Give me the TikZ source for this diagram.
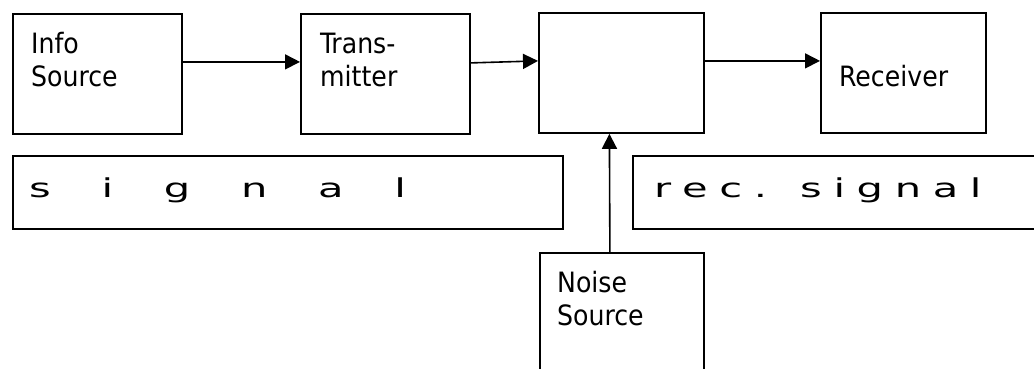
\documentclass[tikz,border=0pt]{standalone}
\usepackage{fontspec}
\setmainfont{DejaVu Sans Condensed}
\newfontfamily\spacedfont[LetterSpace=122]{DejaVu Sans}
\newfontfamily\recfont[LetterSpace=28]{DejaVu Sans}
\usetikzlibrary{arrows.meta}
\tikzset{
  blk/.style={draw=black, line width=1.8pt, rectangle, inner sep=0pt,
    anchor=north west, minimum width=#1},
  blk/.default=169pt,
  lbl/.style={anchor=base west, inner sep=0pt,
    font=\fontsize{28}{33}\selectfont},
  stretched/.style={anchor=base west, inner sep=0pt,
    font=\fontsize{26}{30}\selectfont},
  arr/.style={line width=1.6pt, -{Triangle[length=15pt,width=15pt]}}
}
\begin{document}
\begin{tikzpicture}[x=1pt, y=-1pt]
  \useasboundingbox (0,0) rectangle (1034,369);
  \clip (0,0) rectangle (1034,369);

  % upper chain of blocks
  \node[blk, minimum height=120pt] (info)  at (12,13)  {};
  \node[blk, minimum height=120pt] (trans) at (300,13) {};
  \node[blk=165pt, minimum height=120pt] (chan) at (538,12) {};
  \node[blk=165pt, minimum height=120pt] (recv) at (820,12) {};

  % long signal strips
  \node[blk=550pt, minimum height=73pt] (sigbox) at (12,155) {};
  \node[blk=430pt, minimum height=73pt] (recbox) at (632,155) {};

  % noise block, running off the lower edge
  \node[blk=164pt, minimum height=150pt] (noise) at (539,252) {};

  % block labels
  \node[lbl] (infotxt)  at (31,54)  {\parbox[t]{150pt}{Info\\Source}};
  \node[lbl] (transtxt) at (320,54) {\parbox[t]{150pt}{Trans-\\mitter}};
  \node[lbl] (recvtxt)  at (839,87) {Receiver};
  \node[lbl] (noisetxt) at (557,292) {\parbox[t]{150pt}{Noise\\Source}};

  % letter-spaced, widened strip texts
  \node[stretched] (sigtxt) at (29,197) {\scalebox{1.6}[1]{\spacedfont signal}};
  \node[stretched] (rectxt) at (654,197) {\scalebox{1.6}[1]{\recfont rec. signal}};

  % connectors
  \draw[arr] ([yshift=12pt]info.east)  -- ([yshift=12pt]trans.west);
  \draw[arr] ([yshift=11pt]trans.east) -- ([yshift=12pt]chan.west);
  \draw[arr] ([yshift=12pt]chan.east)  -- ([yshift=12pt]recv.west);
  \draw[arr] ([xshift=-12pt]noise.north) -- ([xshift=-12pt]chan.south);
\end{tikzpicture}
\end{document}
